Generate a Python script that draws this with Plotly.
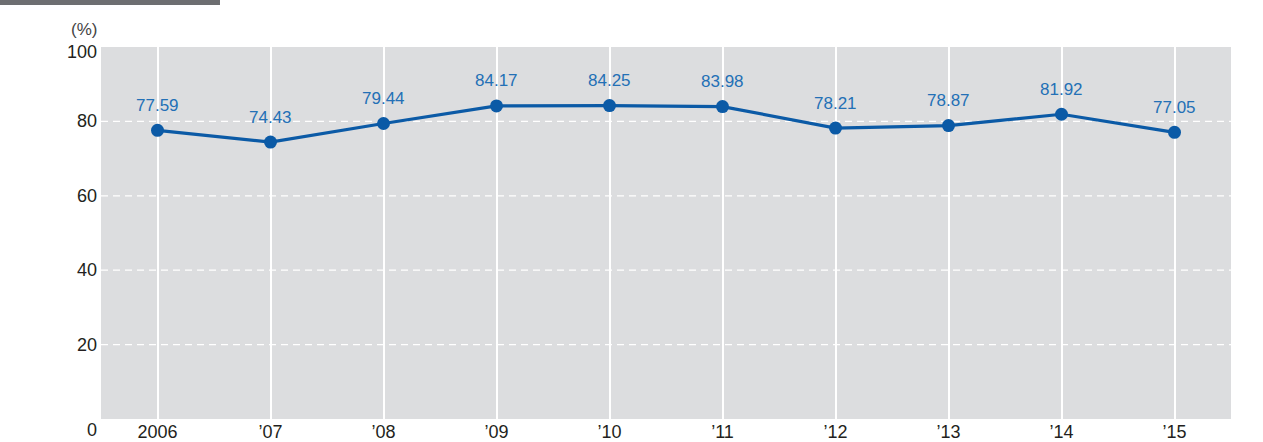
import plotly.graph_objects as go

years = ["2006", "’07", "’08", "’09", "’10", "’11", "’12", "’13", "’14", "’15"]
values = [77.59, 74.43, 79.44, 84.17, 84.25, 83.98, 78.21, 78.87, 81.92, 77.05]
y_ticks = [0, 20, 40, 60, 80, 100]

LINE = "#0b5aa6"
LABEL = "#2370b6"
TXT = "#231f20"
FONT = "Liberation Sans, Arial, sans-serif"

fig = go.Figure()
fig.add_trace(go.Scatter(
    x=list(range(len(years))), y=values, mode="lines+markers",
    line=dict(color=LINE, width=3.2),
    marker=dict(color=LINE, size=13),
    hoverinfo="skip", showlegend=False,
))

annotations = []
for i, v in enumerate(values):
    annotations.append(dict(
        x=i, y=v, xref="x", yref="y", text=f"{v:.2f}", showarrow=False,
        yshift=25, font=dict(family=FONT, size=17, color=LABEL),
    ))
for t in y_ticks:
    shift = -11 if t == 0 else (-5 if t == 100 else 0)
    annotations.append(dict(
        x=0, y=t, xref="paper", yref="y", text=str(t), showarrow=False,
        xanchor="right", xshift=-2, yshift=shift,
        font=dict(family=FONT, size=18, color=TXT),
    ))
annotations.append(dict(
    x=0, y=1, xref="paper", yref="paper", text="(%)", showarrow=False,
    xanchor="right", yanchor="bottom", xshift=-2, yshift=6,
    font=dict(family=FONT, size=17, color="#444"),
))

shapes = []
for t in y_ticks[1:-1]:
    shapes.append(dict(
        type="line", xref="paper", yref="y", x0=0, x1=1, y0=t, y1=t,
        line=dict(color="white", width=1.3, dash="7px,5px"), layer="below",
    ))
shapes.append(dict(
    type="rect", xref="paper", yref="paper",
    x0=-0.0894, x1=0.1053, y0=1.1129, y1=1.13,
    fillcolor="#6d6e71", line=dict(width=0),
))

fig.update_layout(
    width=1263, height=442,
    margin=dict(l=101, r=32, t=47, b=23, autoexpand=False),
    paper_bgcolor="white", plot_bgcolor="#dcdddf",
    font=dict(family=FONT, size=18, color=TXT),
    xaxis=dict(
        range=[-0.5, 9.5], tickmode="array",
        tickvals=list(range(len(years))), ticktext=years,
        showgrid=True, gridcolor="white", gridwidth=2,
        zeroline=False, showline=False, ticks="", automargin=False,
        tickfont=dict(family=FONT, size=18, color=TXT),
        fixedrange=True,
    ),
    yaxis=dict(
        range=[0, 100], showgrid=False, zeroline=False, automargin=False,
        showticklabels=False, ticks="", fixedrange=True,
    ),
    annotations=annotations, shapes=shapes,
)

fig.write_html("out.html", config={"displayModeBar": False},
               post_script="document.body.style.margin='0';")
